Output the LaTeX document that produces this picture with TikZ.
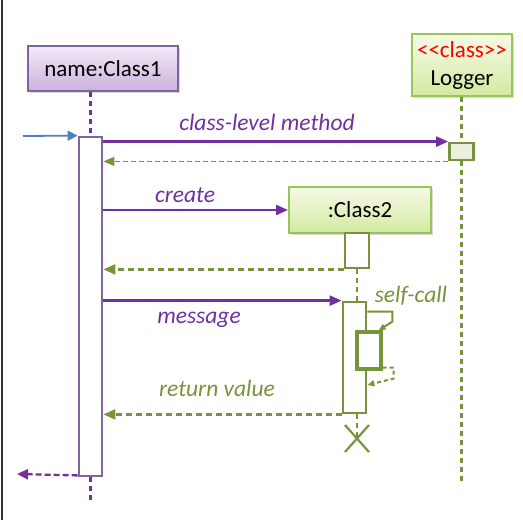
\documentclass[tikz,border=0pt]{standalone}
\usepackage{fontspec}
\setmainfont{Carlito}
\usetikzlibrary{arrows.meta,shadows,calc}
\definecolor{purp}{HTML}{7030A0}
\definecolor{purpb}{HTML}{8064A2}
\definecolor{purptop}{HTML}{F3EAF7}
\definecolor{purpbot}{HTML}{CBB2DE}
\definecolor{grn}{HTML}{77933C}
\definecolor{grnb}{HTML}{9BC556}
\definecolor{grntop}{HTML}{F6FAE6}
\definecolor{grnbot}{HTML}{D3EAA0}
\definecolor{grnfill}{HTML}{EBF1DE}
\definecolor{blu}{HTML}{4F81BD}
\begin{document}
\begin{tikzpicture}[x=1pt,y=-1pt,
  head/.style={draw, line width=2pt, inner sep=0pt, align=center,
    font=\fontsize{23}{28}\selectfont,
    drop shadow={shadow xshift=2pt, shadow yshift=-2pt, opacity=0.25, fill=black!60}},
  headP/.style={head, draw=purpb, top color=purptop, bottom color=purpbot},
  headG/.style={head, draw=grnb, top color=grntop, bottom color=grnbot},
  actP/.style={draw=purpb, line width=2.8pt, fill=white, inner sep=0pt},
  actG/.style={draw=grn, line width=2.8pt, fill=white, inner sep=0pt},
  lifeP/.style={draw=purp, line width=2.5pt, dash pattern=on 5pt off 4pt},
  lifeG/.style={draw=grn, line width=2.5pt, dash pattern=on 5pt off 4pt},
  msg/.style={draw=purp, line width=2.3pt, -{Triangle[length=12pt,width=10pt]}},
  ret/.style={draw=grn, line width=2.3pt, dash pattern=on 6pt off 4pt, -{Triangle[length=12pt,width=10pt]}},
  lblP/.style={text=purp, font=\fontsize{23.5}{28}\selectfont\itshape, inner sep=0pt, anchor=base},
  lblG/.style={text=grn, font=\fontsize{23.5}{28}\selectfont\itshape, inner sep=0pt, anchor=base}]
\useasboundingbox (0,0) rectangle (523,520);
\draw[line width=1.5pt, black!80] (2,0) -- (2,520);

% headers
\node[headP, minimum width=150pt, minimum height=45pt] (c1) at (103,68.5) {name:Class1};
\node[headG, minimum width=100pt, minimum height=62pt] (lg) at (462,65) {\textcolor{red}{<{}<class>{}>}\\Logger};

% lifelines
\node[actP, minimum width=23pt, minimum height=339pt] (a1) at (90.5,306.5) {};
\draw[lifeP] (c1.south -| a1.north) -- (a1.north);
\draw[lifeP] (a1.south) -- ++(0,26);

\node[actG, line width=2.8pt, fill=grnfill, minimum width=24pt, minimum height=17pt] (la) at (461.5,151.5) {};
\draw[lifeG] (lg.south -| la.north) -- (la.north);
\draw[lifeG] (la.south) -- ++(0,323);

% class-level method
\draw[msg] (a1.east |- la.north west) -- (la.north west);
\node[lblP] (l1) at (267,130) {class-level method};
\draw[draw=grn, line width=1.4pt, dash pattern=on 5pt off 3pt, -{Triangle[length=11pt,width=9pt]}] (la.south west) -- (a1.east |- la.south west);

% create
\node[headG, minimum width=142pt, minimum height=46pt] (c2) at (360,210) {:Class2};
\draw[msg] (a1.east |- c2.west) -- (c2.west);
\node[lblP] (l2) at (185,202) {create};
\node[actG, minimum width=24pt, minimum height=35pt] (c2a) at (357,250.5) {};
\draw[ret] (c2a.south west) -- (a1.east |- c2a.south west);

% message
\node[actG, minimum width=23pt, minimum height=111pt] (c2b) at (354.5,357.5) {};
\draw[lifeG] (c2a.south) -- (c2a.south |- c2b.north);
\draw[msg] (a1.east |- c2b.north west) -- (c2b.north west);
\node[lblP] (l3) at (199,323) {message};

% self call
\node[actG, line width=3.2pt, minimum width=24pt, minimum height=37pt] (c2n) at (369,350.5) {};
\draw[draw=grn, line width=2pt, -{Triangle[length=7pt,width=6pt]}] ($(c2b.north east)+(0,11)$) -- ++(25,0) -- ++(0,10) -- ($(c2n.north east)+(-4,0)$);
\draw[draw=grn, line width=2pt, dash pattern=on 4pt off 3pt, -{Triangle[length=7pt,width=6pt]}] ($(c2n.south east)+(0,-3)$) -- ++(11,0) -- ++(0,11) -- ($(c2b.east)+(0,27.5)$);
\node[lblG] (l4) at (411,302) {self-call};

% return value
\draw[ret] (c2b.south west) -- (a1.east |- c2b.south west);
\node[lblG] (l5) at (217,396) {return value};

% destruction
\coordinate (xm) at (357,438.5);
\draw[lifeG] (c2a.south |- c2b.south) -- (xm);
\draw[draw=grn, line width=2.2pt] ($(xm)+(-12,-13.5)$) -- ($(xm)+(12,13.5)$);
\draw[draw=grn, line width=2.2pt] ($(xm)+(-12,13.5)$) -- ($(xm)+(12,-13.5)$);

% incoming / outgoing
\coordinate (inA) at (23,136);
\draw[draw=blu, line width=1.8pt, -{Triangle[length=10pt,width=10pt]}] (inA) -- (a1.north west);
\coordinate (outA) at (17,474);
\draw[draw=purp, line width=2.3pt, dash pattern=on 6pt off 3pt, -{Triangle[length=11pt,width=10pt]}] ($(a1.south west)+(0,-2)$) -- (outA);
\end{tikzpicture}
\end{document}
